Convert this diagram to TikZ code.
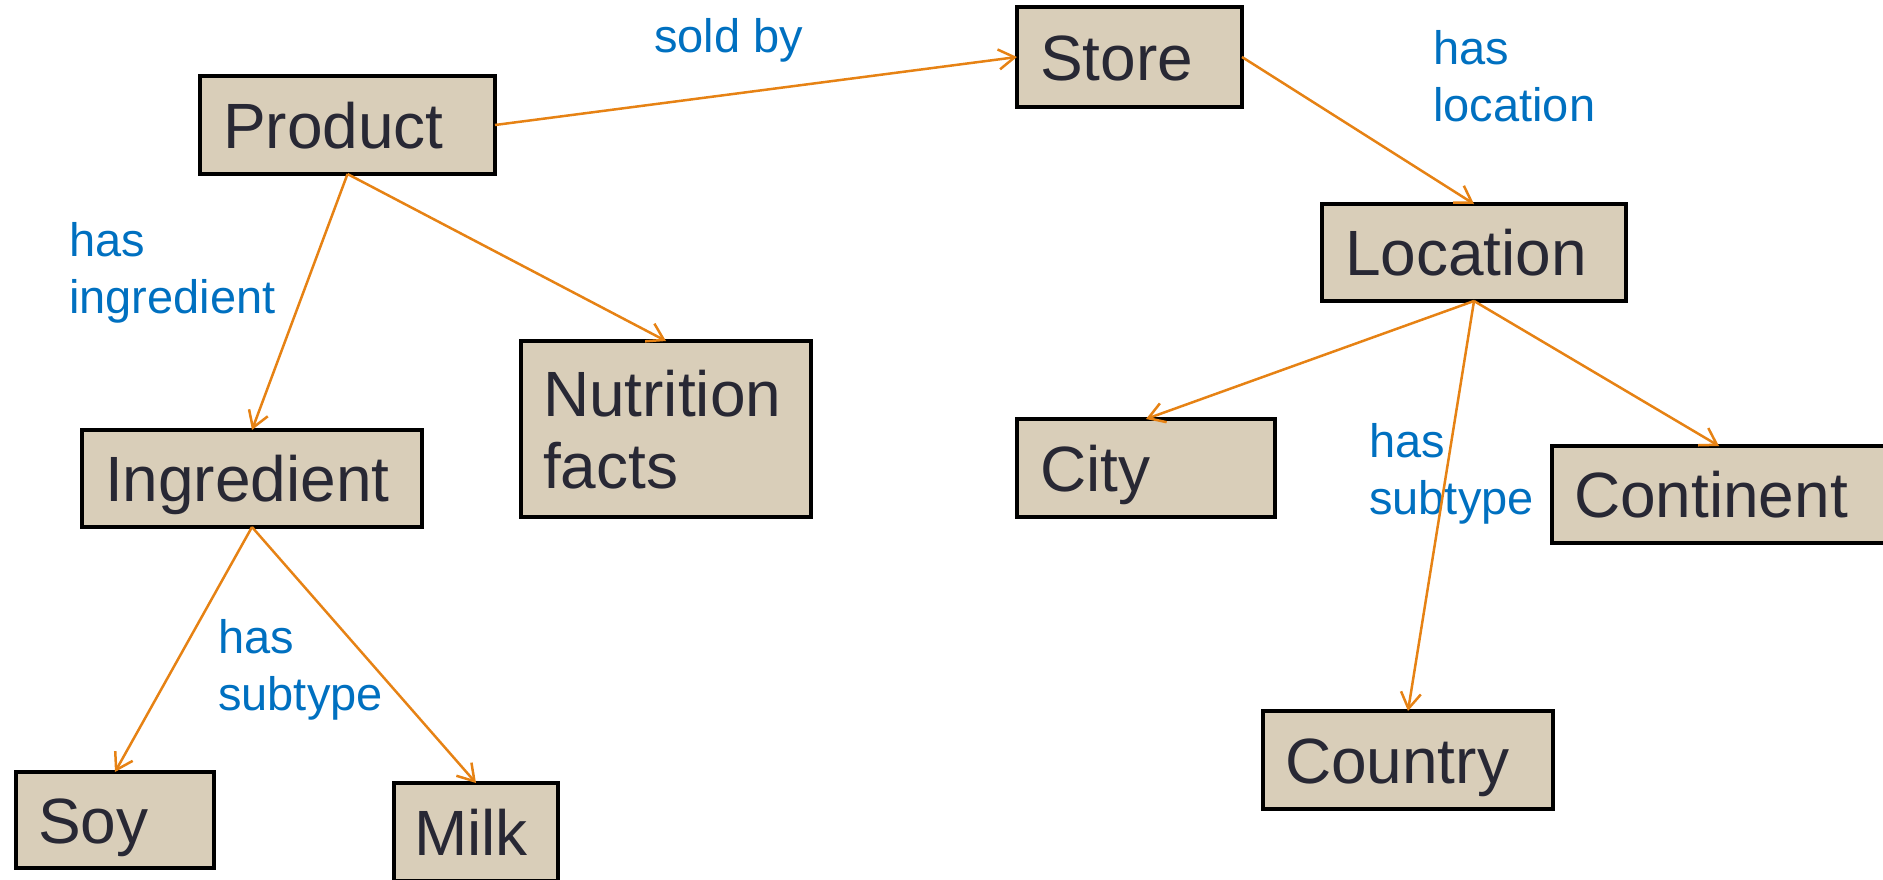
\documentclass[tikz,border=0pt]{standalone}
\usepackage{fontspec}
\setmainfont{Liberation Sans}
\usetikzlibrary{arrows.meta}

\definecolor{boxfill}{RGB}{217,206,185}
\definecolor{boxtext}{RGB}{40,40,52}
\definecolor{relblue}{RGB}{0,112,192}
\definecolor{relorange}{RGB}{230,130,20}

\tikzset{
  concept/.style={draw=black, line width=4pt, fill=boxfill, text=boxtext,
    anchor=north west, outer sep=0pt, inner xsep=23pt, inner ysep=0pt,
    align=left, text height=46pt, text depth=0pt,
    font=\fontsize{64}{72}\selectfont},
  relation/.style={anchor=north west, inner sep=0pt, align=left, text=relblue,
    font=\fontsize{47}{57}\selectfont},
  link/.style={draw=relorange, line width=2.5pt,
    -{Straight Barb[length=16pt,width=20pt,line width=2.5pt]}},
}

\begin{document}
\begin{tikzpicture}[x=1pt, y=-1pt]
  \useasboundingbox (0,0) rectangle (1883,879);
  \clip (0,0) rectangle (1883,879);

  % Concepts
  \node[concept, text width=249pt, minimum height=98pt] (product) at (200,76) {Product};
  \node[concept, text width=179pt, minimum height=100pt] (store) at (1017,7) {Store};
  \node[concept, text width=258pt, minimum height=97pt] (location) at (1322,204) {Location};
  \node[concept, text width=294pt, minimum height=97pt] (ingredient) at (82,430) {Ingredient};
  \node[concept, text width=246pt, inner xsep=22pt, minimum height=176pt, text depth=72pt] (nutrition) at (521,341) {Nutrition\\facts};
  \node[concept, text width=212pt, minimum height=98pt] (city) at (1017,419) {City};
  \node[concept, text width=290pt, inner xsep=22pt, minimum height=97pt] (continent) at (1552,446) {Continent};
  \node[concept, text width=246pt, inner xsep=22pt, minimum height=98pt] (country) at (1263,711) {Country};
  \node[concept, text width=154pt, inner xsep=22pt, minimum height=96pt] (soy) at (16,772) {Soy};
  \node[concept, text width=124pt, inner xsep=20pt, minimum height=98pt] (milk) at (394,783) {Milk};

  % Relations
  \node[relation] (soldby) at (654,18) {sold by};
  \node[relation] (haslocation) at (1433,30) {has\\location};
  \node[relation] (hasingredient) at (69,222) {has\\ingredient};
  \node[relation] (subtypeleft) at (218,619) {has\\subtype};
  \node[relation] (subtyperight) at (1369,423) {has\\subtype};

  % Links
  \draw[link] (product.east) -- (store.west);
  \draw[link] (store.east) -- (location.north);
  \draw[link] (product.south) -- (ingredient.north);
  \draw[link] (product.south) -- (nutrition.north);
  \draw[link] (ingredient.south) -- (soy.north);
  \draw[link] (ingredient.south) -- (milk.north);
  \draw[link] (location.south) -- (city.north);
  \draw[link] (location.south) -- (country.north);
  \draw[link] (location.south) -- (continent.north);
\end{tikzpicture}
\end{document}
